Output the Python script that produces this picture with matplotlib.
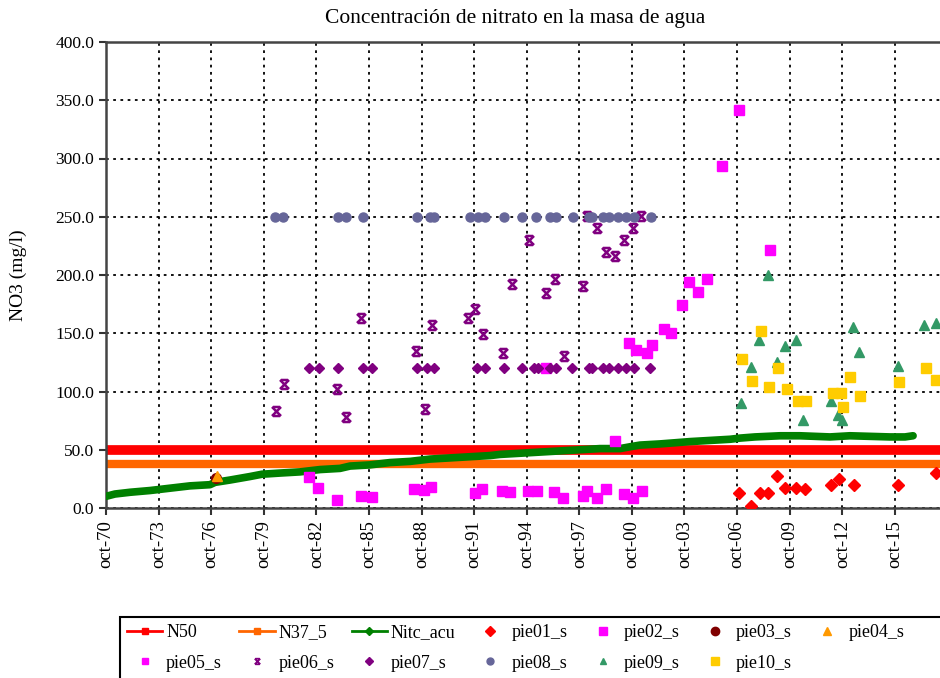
import numpy as np
import matplotlib.pyplot as plt
from matplotlib.lines import Line2D
from matplotlib.path import Path
from matplotlib.patches import Rectangle

plt.rcParams['font.family'] = ['Liberation Serif', 'DejaVu Serif']

# fechas en años decimales (oct-70 = 1970.75)
n50_x = [1970.75, 2019.5]
n50_y = [50.0, 50.0]
n37_x = [1970.75, 2019.5]
n37_y = [37.5, 37.5]

nitc_x = [1970.75, 1971.26, 1972.12, 1973.26, 1974.40, 1975.54, 1976.68, 1976.97,
          1977.82, 1978.96, 1979.65, 1980.68, 1981.82, 1982.96, 1984.10, 1984.67,
          1985.81, 1986.95, 1988.09, 1989.23, 1990.37, 1991.51, 1992.66, 1993.23,
          1994.37, 1995.51, 1996.65, 1997.79, 1998.93, 2000.07, 2000.81, 2001.21,
          2002.35, 2003.21, 2004.06, 2005.21, 2006.35, 2006.92, 2007.77, 2009.20,
          2010.34, 2012.05, 2013.19, 2014.33, 2015.47, 2016.33, 2016.79]
nitc_y = [10, 12, 13.5, 15, 17, 19, 20, 22,
          24, 27, 29, 30, 31, 33, 34, 36,
          37, 39, 40, 42, 43, 44, 45, 46,
          47, 48, 49, 50, 51, 51, 53, 54,
          55, 56, 57, 58, 59, 60, 61, 62,
          62, 61, 62, 61.5, 61, 61, 62]

pie01_x = [2006.88, 2007.54, 2008.06, 2008.50, 2009.01, 2009.50, 2010.11, 2010.63,
           2012.09, 2012.56, 2013.44, 2015.91, 2018.10]
pie01_y = [13.1, 1.7, 13.1, 13.1, 27.5, 16.9, 16.9, 16.0, 19.7, 24.9, 19.7, 19.7, 29.8]

pie02_x = [1995.85, 2000.58, 2000.98, 2001.61, 2001.90, 2002.58, 2002.98, 2003.61,
           2004.01, 2004.52, 2005.03, 2005.89, 2006.86, 2008.62]
pie02_y = [120, 141.3, 135.6, 132.8, 140, 154, 150.5, 174,
           193.7, 185.7, 196.3, 293.6, 342, 221.5]

pie03_x = [1977.0]
pie03_y = [25.5]

pie04_x = [1977.1]
pie04_y = [27.5]

pie05_x = [1982.33, 1982.84, 1983.93, 1985.30, 1985.92, 1988.32, 1988.89, 1989.29,
           1991.80, 1992.20, 1993.34, 1993.80, 1994.82, 1995.34, 1996.31, 1996.82,
           1997.96, 1998.19, 1998.76, 1999.27, 1999.79, 2000.30, 2000.81, 2001.33]
pie05_y = [26.3, 17, 6.9, 10.6, 9.4, 16, 15.5, 18.3,
           13.1, 16, 14.6, 13.5, 14.9, 14.9, 13.5, 8.3,
           10.6, 14.9, 8.3, 16, 57.8, 12, 8.3, 14.9]

pie06_x = [1980.45, 1980.90, 1983.93, 1984.44, 1985.30, 1988.43, 1988.95, 1989.35,
           1991.40, 1991.80, 1992.26, 1993.40, 1993.91, 1994.88, 1995.85, 1996.36,
           1996.88, 1997.96, 1998.19, 1998.76, 1999.27, 1999.79, 2000.30, 2000.81,
           2001.27]
pie06_y = [83.3, 106.4, 102.1, 78.1, 163.1, 134.8, 85.0, 157.1,
           163.1, 170.8, 149.4, 133.1, 192.3, 230.0, 184.6, 196.6,
           130.5, 190.6, 250.7, 240.4, 219.8, 216.3, 230.0, 240.4,
           250.7]

pie07_x = [1982.33, 1982.90, 1983.98, 1985.41, 1985.92, 1988.49, 1989.06, 1989.46,
           1991.91, 1992.37, 1993.45, 1994.48, 1995.17, 1995.39, 1996.08, 1996.42,
           1997.33, 1998.30, 1998.47, 1999.10, 1999.44, 1999.96, 2000.41, 2000.87,
           2001.78]
pie07_y = [120] * len(pie07_x)

pie08_x = [1980.39, 1980.85, 1983.98, 1984.44, 1985.41, 1988.49, 1989.23, 1989.46,
           1991.51, 1991.97, 1992.37, 1993.45, 1994.48, 1995.28, 1996.08, 1996.42,
           1997.39, 1998.30, 1998.47, 1999.10, 1999.44, 1999.96, 2000.41, 2000.87,
           2001.84]
pie08_y = [250] * len(pie08_x)

pie09_x = [2006.97, 2007.54, 2007.98, 2008.50, 2009.01, 2009.50, 2010.09, 2010.51,
           2012.09, 2012.52, 2012.72, 2013.38, 2013.72, 2015.91, 2017.43, 2018.10]
pie09_y = [90.4, 121.3, 144.2, 200, 125.6, 139, 144.2, 75.5,
           92.1, 79.8, 75.5, 155.6, 134.2, 122.2, 157.1, 158.5]

pie10_x = [2007.05, 2007.62, 2008.11, 2008.55, 2009.07, 2009.58, 2010.20, 2010.66,
           2012.20, 2012.66, 2012.78, 2013.19, 2013.78, 2015.99, 2017.51, 2018.08]
pie10_y = [127.9, 109, 151.9, 104.1, 120.4, 102.1, 92.1, 92.1,
           98.4, 98.4, 87, 112.7, 96.1, 108.4, 120.4, 109.9]

# marcador tipo "x" con barras arriba y abajo
xbar = Path([(-1, -1), (1, 1), (-1, 1), (1, -1),
             (-0.8, 1), (0.8, 1), (-0.8, -1), (0.8, -1)],
            [Path.MOVETO, Path.LINETO] * 4)

fig = plt.figure(figsize=(9.4, 6.78), dpi=100)
ax = fig.add_axes([106 / 940, 170 / 678, 854 / 940, 466 / 678])

ax.plot(n50_x, n50_y, color='#FF0000', lw=7, solid_capstyle='butt', zorder=2)
ax.plot(n37_x, n37_y, color='#FF6600', lw=6, solid_capstyle='butt', zorder=2)
ax.plot(nitc_x, nitc_y, color='#008000', lw=5.5, solid_capstyle='round', zorder=3)

ax.plot(pie01_x, pie01_y, 'D', color='#FF0000', ms=6, ls='none', zorder=4)
ax.plot(pie02_x, pie02_y, 's', color='#FF00FF', ms=7, ls='none', zorder=4)
ax.plot(pie05_x, pie05_y, 's', color='#FF00FF', ms=7, ls='none', zorder=4)
ax.plot(pie03_x, pie03_y, 'o', color='#800000', ms=7, ls='none', zorder=4)
ax.plot(pie04_x, pie04_y, '^', color='#FF9900', ms=7, ls='none', zorder=5)
ax.plot(pie06_x, pie06_y, marker=xbar, color='#800080', ms=6.5, mew=1.8, ls='none', zorder=4)
ax.plot(pie07_x, pie07_y, 'D', color='#800080', ms=5, ls='none', zorder=4)
ax.plot(pie08_x, pie08_y, 'o', color='#666699', ms=6.5, ls='none', zorder=4)
ax.plot(pie09_x, pie09_y, '^', color='#339966', ms=6.5, ls='none', zorder=4)
ax.plot(pie10_x, pie10_y, 's', color='#FFCC00', ms=7.5, ls='none', zorder=4)

# ejes
xt = np.arange(1970.75, 2017, 3)
ax.set_xticks(xt)
ax.set_xticklabels(['oct-%02d' % (int(t) % 100) for t in xt], rotation=90, fontsize=13.5)
ax.set_xlim(1970.75, 1970.75 + 854 / 17.53)
ax.set_ylim(0, 400)
ax.set_yticks(np.arange(0, 401, 50))
ax.set_yticklabels(['%.1f' % v for v in np.arange(0, 401, 50)], fontsize=12.5)
ax.tick_params(direction='out', length=5, width=1.5, color='#333333')
ax.tick_params(axis='x', pad=4)
ax.grid(True, color='black', ls=(0, (1.5, 2.5)), lw=1.3)
ax.set_axisbelow(True)
for s in ['left', 'bottom', 'top']:
    ax.spines[s].set_color('#444444')
    ax.spines[s].set_linewidth(1.8)
ax.spines['right'].set_visible(False)

fig.text(515 / 940, 1 - 18 / 678, 'Concentración de nitrato en la masa de agua',
         ha='center', va='center', fontsize=15.5)
fig.text(18 / 940, 1 - 275 / 678, 'NO3 (mg/l)', rotation=90,
         ha='center', va='center', fontsize=14)

handles = [
    Line2D([], [], color='#FF0000', lw=2, marker='s', ms=5),
    Line2D([], [], color='#FF00FF', ls='none', marker='s', ms=5),
    Line2D([], [], color='#FF6600', lw=2, marker='s', ms=5),
    Line2D([], [], color='#800080', ls='none', marker=xbar, ms=4, mew=1.3),
    Line2D([], [], color='#008000', lw=2, marker='D', ms=4),
    Line2D([], [], color='#800080', ls='none', marker='D', ms=4),
    Line2D([], [], color='#FF0000', ls='none', marker='D', ms=5),
    Line2D([], [], color='#666699', ls='none', marker='o', ms=5),
    Line2D([], [], color='#FF00FF', ls='none', marker='s', ms=6),
    Line2D([], [], color='#339966', ls='none', marker='^', ms=5),
    Line2D([], [], color='#800000', ls='none', marker='o', ms=6),
    Line2D([], [], color='#FFCC00', ls='none', marker='s', ms=6),
    Line2D([], [], color='#FF9900', ls='none', marker='^', ms=6),
]
labels = ['N50', 'pie05_s', 'N37_5', 'pie06_s', 'Nitc_acu', 'pie07_s', 'pie01_s',
          'pie08_s', 'pie02_s', 'pie09_s', 'pie03_s', 'pie10_s', 'pie04_s']
leg = fig.legend(handles, labels, ncol=7, loc='upper left',
                 bbox_to_anchor=(120 / 940, 1 - 617 / 678), fontsize=13,
                 frameon=False, borderaxespad=0, handlelength=1.95,
                 handletextpad=0.2, columnspacing=0.97, labelspacing=0.75,
                 borderpad=0.4)

# marco de la leyenda (se sale por la derecha y por abajo, como en el original)
fig.patches.append(Rectangle((120 / 940, -20 / 678), 900 / 940, 81 / 678,
                             transform=fig.transFigure, fill=False,
                             edgecolor='black', lw=1.5))

fig.savefig('out.png', dpi=100)
